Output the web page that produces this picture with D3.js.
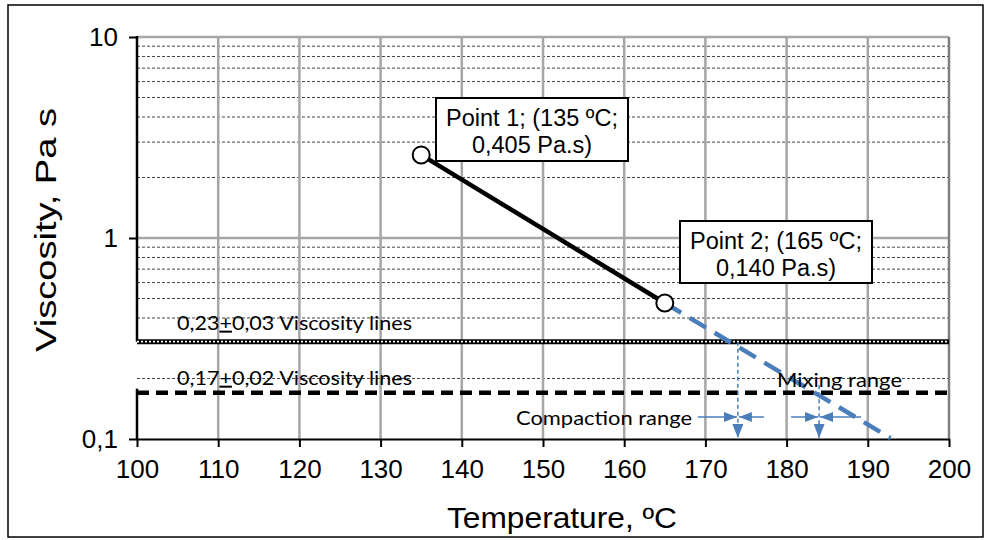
<!DOCTYPE html>
<html><head><meta charset="utf-8">
<script src="https://cdn.jsdelivr.net/npm/d3@7"></script>
<style>body{margin:0;background:#fff}svg{display:block}</style>
</head><body>
<svg id="c" width="987" height="540"></svg>
<script>
// ---- data ----
const tempTicks = [100,110,120,130,140,150,160,170,180,190,200];
const viscTicks = [0.1, 1, 10];
const viscTickLabels = ["0,1", "1", "10"];
const minorVisc = [0.2,0.3,0.4,0.5,0.6,0.7,0.8,0.9,2,3,4,5,6,7,8,9];
const measuredTemp = [135, 165];
const measuredVisc = [2.59, 0.475];
const extrapTemp = [165, 192.8];
const extrapVisc = [0.475, 0.101];
const viscLineValues = [0.305, 0.17];
const viscLineLabels = ["0,23", "0,17"];
const viscLineTol = ["0,03 Viscosity lines", "0,02 Viscosity lines"];
const rangeTemps = [174, 184];
const rangeStartVisc = [0.305, 0.185];
const pointLabels = [["Point 1; (135 ºC;", "0,405 Pa.s)"], ["Point 2; (165 ºC;", "0,140 Pa.s)"]];

const svg = d3.select("#c");
const L = 137, R = 949, T = 37, B = 439;
const x = d3.scaleLinear().domain([100, 200]).range([L, R]);
const y = d3.scaleLog().domain([0.1, 10]).range([B, T]);
const blue = "#4a7ebb";
const arial = "'Liberation Sans', Arial, sans-serif";
const cal = "Lato, 'Open Sans', sans-serif";

// outer border
svg.append("rect").attr("x", 8).attr("y", 5).attr("width", 975).attr("height", 532)
  .attr("fill", "none").attr("stroke", "#000").attr("stroke-width", 1.5);

// minor horizontal gridlines
svg.append("g").selectAll("line").data(minorVisc).join("line")
  .attr("x1", L).attr("x2", R).attr("y1", d => y(d)).attr("y2", d => y(d))
  .attr("stroke", "#444").attr("stroke-width", 1).attr("stroke-dasharray", "3,2");

// major horizontal gridlines
svg.append("g").selectAll("line").data([1, 10]).join("line")
  .attr("x1", L).attr("x2", R).attr("y1", d => y(d)).attr("y2", d => y(d))
  .attr("stroke", "#a6a6a6").attr("stroke-width", 2.5);

// vertical gridlines
svg.append("g").selectAll("line").data(tempTicks.slice(1)).join("line")
  .attr("x1", d => x(d)).attr("x2", d => x(d)).attr("y1", T).attr("y2", B)
  .attr("stroke", d => d === 200 ? "#7f7f7f" : "#a6a6a6").attr("stroke-width", 2.5);

// x axis
const xAxis = d3.axisBottom(x).tickValues(tempTicks).tickSize(8).tickSizeOuter(0).tickFormat(d3.format("d"));
const gx = svg.append("g").attr("transform", `translate(0,${B})`).call(xAxis);
gx.select(".domain").attr("stroke", "#000").attr("stroke-width", 2);
gx.selectAll(".tick line").attr("stroke", "#000").attr("stroke-width", 2);
gx.selectAll(".tick text").attr("font-family", arial).attr("font-size", 26).attr("fill", "#000").attr("dy", "0.95em").attr("y", 14);

// y axis
const yAxis = d3.axisLeft(y).tickValues(viscTicks).tickSize(8).tickSizeOuter(0)
  .tickFormat((d, i) => viscTickLabels[i]);
const gy = svg.append("g").attr("transform", `translate(${L},0)`).call(yAxis);
gy.select(".domain").remove();
gy.selectAll(".tick line").attr("stroke", "#000").attr("stroke-width", 2);
gy.selectAll(".tick text").attr("font-family", arial).attr("font-size", 26).attr("fill", "#000").attr("x", -19);
// axis line with small gap (as in reference)
svg.append("line").attr("x1", L).attr("x2", L).attr("y1", T - 1).attr("y2", y(0.305))
  .attr("stroke", "#000").attr("stroke-width", 2.5);
svg.append("line").attr("x1", L).attr("x2", L).attr("y1", y(0.17) - 4).attr("y2", B)
  .attr("stroke", "#000").attr("stroke-width", 2.5);

// axis titles
svg.append("text").attr("x", 562).attr("y", 528).attr("text-anchor", "middle")
  .attr("font-family", arial).attr("font-size", 29)
  .attr("textLength", 230).attr("lengthAdjust", "spacingAndGlyphs").text("Temperature, ºC");
svg.append("text").attr("transform", "translate(56,230) rotate(-90)").attr("text-anchor", "middle")
  .attr("font-family", arial).attr("font-size", 29)
  .attr("textLength", 244).attr("lengthAdjust", "spacingAndGlyphs").text("Viscosity, Pa s");

// viscosity lines
svg.append("line").attr("x1", L).attr("x2", R).attr("y1", y(viscLineValues[0])).attr("y2", y(viscLineValues[0]))
  .attr("stroke", "#000").attr("stroke-width", 5);
svg.append("line").attr("x1", L).attr("x2", R).attr("y1", y(viscLineValues[0])).attr("y2", y(viscLineValues[0]))
  .attr("stroke", "#fff").attr("stroke-width", 1.6).attr("stroke-dasharray", "2,2");
svg.append("line").attr("x1", L).attr("x2", R).attr("y1", y(viscLineValues[1])).attr("y2", y(viscLineValues[1]))
  .attr("stroke", "#000").attr("stroke-width", 4.5).attr("stroke-dasharray", "12,7");

// viscosity line labels
viscLineValues.forEach((v, i) => {
  const t = svg.append("text").attr("x", 177).attr("y", y(v) - (i === 0 ? 12 : 8))
    .attr("font-family", cal).attr("font-size", 20).attr("fill", "#000")
    .attr("textLength", 235).attr("lengthAdjust", "spacingAndGlyphs");
  t.append("tspan").text(viscLineLabels[i]);
  t.append("tspan").attr("text-decoration", "underline").text("+");
  t.append("tspan").text(viscLineTol[i]);
});

// extrapolated dashed blue line
svg.append("path").datum(extrapTemp.map((t, i) => [t, extrapVisc[i]]))
  .attr("d", d3.line().x(d => x(d[0])).y(d => y(d[1])))
  .attr("fill", "none").attr("stroke", blue).attr("stroke-width", 4.5).attr("stroke-dasharray", "19,10");

// measured line
svg.append("path").datum(measuredTemp.map((t, i) => [t, measuredVisc[i]]))
  .attr("d", d3.line().x(d => x(d[0])).y(d => y(d[1])))
  .attr("fill", "none").attr("stroke", "#000").attr("stroke-width", 4.5);

// markers
svg.append("g").selectAll("circle").data(measuredTemp).join("circle")
  .attr("cx", d => x(d)).attr("cy", (d, i) => y(measuredVisc[i])).attr("r", 8.5)
  .attr("fill", "#fff").attr("stroke", "#000").attr("stroke-width", 2);

// range arrows
const defs = svg.append("defs");
defs.append("marker").attr("id", "ahv").attr("viewBox", "0 0 10 10").attr("refX", 10).attr("refY", 5)
  .attr("markerWidth", 14).attr("markerHeight", 11).attr("markerUnits", "userSpaceOnUse")
  .attr("orient", "auto").attr("preserveAspectRatio", "none")
  .append("path").attr("d", "M0,0L10,5L0,10Z").attr("fill", blue);
defs.append("marker").attr("id", "ahh").attr("viewBox", "0 0 10 10").attr("refX", 10).attr("refY", 5)
  .attr("markerWidth", 13).attr("markerHeight", 10).attr("markerUnits", "userSpaceOnUse")
  .attr("orient", "auto").attr("preserveAspectRatio", "none")
  .append("path").attr("d", "M0,0L10,5L0,10Z").attr("fill", blue);

const arrowY = 417;
rangeTemps.forEach((t, i) => {
  const xt = x(t);
  svg.append("line").attr("x1", xt).attr("x2", xt).attr("y1", y(rangeStartVisc[i])).attr("y2", B - 1)
    .attr("stroke", blue).attr("stroke-width", 1.5).attr("stroke-dasharray", "4,3")
    .attr("marker-end", "url(#ahv)");
  svg.append("line").attr("x1", i === 0 ? xt - 40 : xt - 28).attr("x2", xt - 1).attr("y1", arrowY).attr("y2", arrowY)
    .attr("stroke", blue).attr("stroke-width", 1.5).attr("marker-end", "url(#ahh)");
  svg.append("line").attr("x1", i === 0 ? xt + 26 : xt + 42).attr("x2", xt + 1).attr("y1", arrowY).attr("y2", arrowY)
    .attr("stroke", blue).attr("stroke-width", 1.5).attr("marker-end", "url(#ahh)");
});

// range labels
svg.append("text").attr("x", 516).attr("y", 425)
  .attr("font-family", cal).attr("font-size", 20)
  .attr("textLength", 176).attr("lengthAdjust", "spacingAndGlyphs").text("Compaction range");
svg.append("text").attr("x", 777).attr("y", 387)
  .attr("font-family", cal).attr("font-size", 20)
  .attr("textLength", 125).attr("lengthAdjust", "spacingAndGlyphs").text("Mixing range");

// callouts
const boxes = [{x0: 436, y0: 98, w: 192, h: 63}, {x0: 680, y0: 221, w: 192, h: 62}];
boxes.forEach((b, i) => {
  svg.append("rect").attr("x", b.x0).attr("y", b.y0).attr("width", b.w).attr("height", b.h)
    .attr("fill", "#fff").attr("stroke", "#000").attr("stroke-width", 2);
  pointLabels[i].forEach((s, j) => {
    svg.append("text").attr("x", b.x0 + b.w / 2).attr("y", b.y0 + 28 + j * 27).attr("text-anchor", "middle")
      .attr("font-family", arial).attr("font-size", 23.5).text(s);
  });
});
</script>
</body></html>
